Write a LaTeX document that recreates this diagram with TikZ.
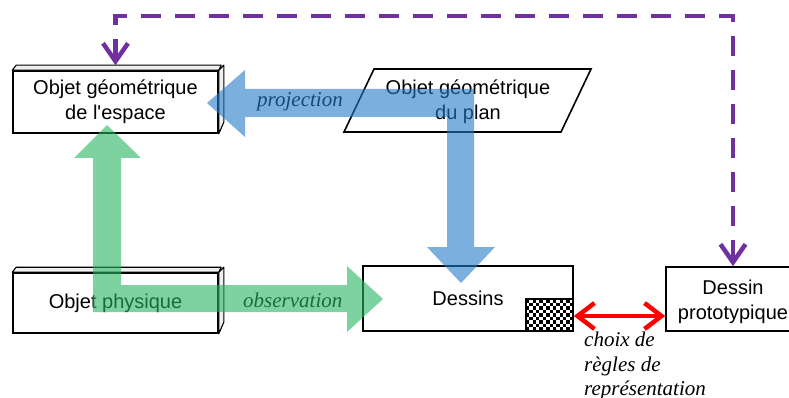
\documentclass[tikz,border=0pt]{standalone}
\usepackage{fontspec}
\setmainfont{Liberation Sans}
\newfontfamily\serifit{Liberation Serif}
\usetikzlibrary{arrows.meta}
\definecolor{pblue}{RGB}{35,123,200}
\definecolor{pgreen}{RGB}{38,182,97}
\definecolor{ppurple}{RGB}{112,48,160}
\begin{document}
\begin{tikzpicture}[x=1pt,y=-1pt,
  box/.style={draw,line width=1.6pt,fill=white,inner sep=0pt,align=center,font=\fontsize{20}{25}\selectfont},
  face/.style={draw,line width=1.1pt,fill=gray!12,line join=round},
  lbl/.style={font=\serifit\itshape\fontsize{21}{25}\selectfont,inner sep=0pt}]
\useasboundingbox (0,0) rectangle (789,398);
\fill[white] (0,0) rectangle (789,398);

% 3D box: objet geometrique de l'espace
\node[box,minimum width=205pt,minimum height=62pt] (esp) at (115.5,102) {Objet géométrique\\de l\textquotesingle espace};
\draw[face] (esp.north west) -- ++(4,-5) -- ++(205,0) -- (esp.north east) -- cycle;
\draw[face] (esp.north east) -- ++(5,-5) -- ++(0,57) -- (esp.south east) -- cycle;

% 3D box: objet physique
\node[box,minimum width=205pt,minimum height=60pt] (phys) at (115.5,303) {Objet physique};
\draw[face] (phys.north west) -- ++(4,-5) -- ++(205,0) -- (phys.north east) -- cycle;
\draw[face] (phys.north east) -- ++(5,-5) -- ++(0,55) -- (phys.south east) -- cycle;

% parallelogram
\draw[line width=1.6pt,fill=white,line join=miter] (374,69) -- (591,69) -- (561,132) -- (344,132) -- cycle;
\node[font=\fontsize{20}{25}\selectfont,align=center,inner sep=0pt] (plan) at (468,102) {Objet géométrique\\du plan};

% Dessins
\node[box,minimum width=210pt,minimum height=65pt] (dess) at (468,298.5) {Dessins};
\begin{scope}
  \clip (526,299) rectangle (573,331);
  \foreach \i in {0,...,13}{\foreach \j in {0,...,8}{%
    \pgfmathtruncatemacro\k{mod(\i+\j,2)}%
    \ifnum\k=0 \fill (526+\i*3.357,299+\j*3.556) rectangle ++(3.357,3.556);\fi}}
\end{scope}
\draw[line width=1.2pt] (526,299) rectangle (573,331);

% Dessin prototypique
\node[box,minimum width=134pt,minimum height=64pt] (proto) at (733,299) {};
\node[font=\fontsize{20}{25}\selectfont,align=center,inner sep=0pt] (prototxt) at (733,301.5) {Dessin\\prototypique};

% arrow labels (under the transparent arrows)
\node[lbl,anchor=base west] (proj) at (257,107) {projection};
\node[lbl,anchor=base west] (obs) at (243,307) {observation};

% big blue arrow
\fill[pblue,fill opacity=0.6] (474,89) -- (245,89) -- (245,70) -- (207,103) -- (245,137) -- (245,117)
  -- (447,117) -- (447,247) -- (427,247) -- (461,283) -- (495,247) -- (474,247) -- cycle;
% big green arrow
\fill[pgreen,fill opacity=0.6] (93,312) -- (93,158) -- (74,158) -- (107,125) -- (141,158) -- (121,158)
  -- (121,285) -- (347,285) -- (347,266) -- (383,299) -- (347,332) -- (347,312) -- cycle;

% purple dashed connector
\draw[ppurple,line width=4.5pt,dash pattern=on 20pt off 14pt,line join=miter,
  {Straight Barb[length=18pt,width=25pt]}-{Straight Barb[length=18pt,width=25pt]}]
  ([yshift=5pt]esp.north) -- ++(0,-49) -| (proto.north);

% red double arrow
\draw[red,line width=4.5pt,{Straight Barb[length=17pt,width=26pt]}-{Straight Barb[length=17pt,width=26pt]}]
  (dess.east |- 0,316) -- (proto.west |- 0,316);

% caption
\node[lbl,anchor=base west] (c1) at (584,346) {choix de};
\node[lbl,anchor=base west] (c2) at (584,371) {règles de};
\node[lbl,anchor=base west] (c3) at (584,395) {représentation};
\end{tikzpicture}
\end{document}
